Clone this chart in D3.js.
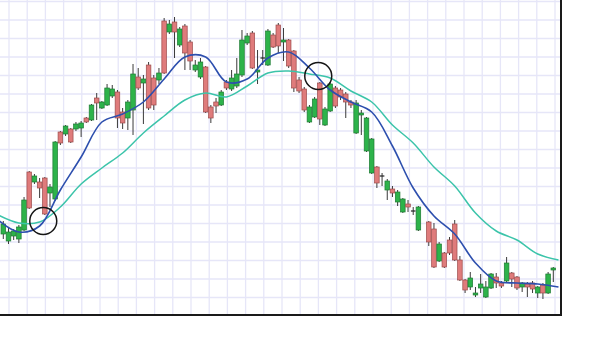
<!DOCTYPE html>
<html>
<head>
<meta charset="utf-8">
<script src="https://cdn.jsdelivr.net/npm/d3@7"></script>
<style>
  body { margin: 0; background: #fff; }
  svg { display: block; }
</style>
</head>
<body>
<div id="chart"></div>
<script>
var svgWidth = 600;
var svgHeight = 337;

// plot frame (right and bottom axis lines)
var frame = { right: 561, bottom: 315 };

// candle data, one slot per session (null = no candle)
var opens = [43, 39.5, 42, 40.5, 45, 74, 69, 69, 71, 63.5,
  60.5, 94, 93, 95.5, 95.5, 96, 101, 100, 111, 106,
  107.5, 112, 114, 104, 101, 105, 121.5, 118.5, 127.5, 121,
  120, 149.5, 144, 149, 137.5, 147, 139, 125, 121.5, 126.5,
  106.5, 109, 107.5, 119, 115.5, 117, 122.5, 138.5, 143.5, 124,
  131, 127.5, 142.5, 147.5, 139, 140, 134.5, 120, 115.5, 99,
  101.5, 118.5, 97.5, 104.5, 116, 115, 113, 109, 93.5, 102.5,
  84.5, 73.5, 76.5, 72, 65, 65.5, 59, 54, 58, 54.5,
  45, null, 49, 45.5, 29.5, 33.5, 40, 48, 30, 20,
  16.5, 12.5, 16, 11.5, 16, 21.5, 18.5, 19.5, 23.5, 21.5,
  16.5, 18, 18.5, 13.5, 17.5, 13.5, 25];
var closes = [48, 44, 44.5, 46.5, 60, 56, 72, 66, 53, 66.5,
  89, 88.5, 97, 89, 98, 98.5, 99, 107.5, 108.5, 109,
  116, 115.5, 101, 98.5, 109, 123, 116, 120.5, 106, 107.5,
  123.5, 123.5, 148, 144, 145.5, 133.5, 129.5, 127.5, 129, 104,
  101, 107, 114, 116, 121, 123, 140, 142, 126, 125,
  131, 144.5, 136.5, 137, 140, 127, 116, 114.5, 105, 106.5,
  110.5, 100.5, 105.5, 118, 107, 111.5, 109, 107.5, 108.5, 103.5,
  101, 90.5, 68.5, 72, 69.5, 63.5, 64, 60.5, 56.5, 54.5,
  56.5, null, 39, 26.5, 38, 26.5, 33.5, 30, 20, 15,
  21, 13.5, 18, 16.5, 23, 18.5, 17, 28.5, 20.5, 16,
  18.5, 16.5, 15.5, 16.5, 13.5, 23, 26];
var highs = [49.5, 46, 45.5, 47.5, 61.5, 74.5, 73, 71, 71.5, 68,
  89.5, 94.5, 97.5, 96, 99, 99.5, 101.5, 108, 113.5, 109.5,
  118, 117.5, 115, 106, 110, 128, 126, 122.5, 129, 122.5,
  126, 151, 150, 151.5, 146.5, 148, 140, 130, 131, 127,
  107.5, 111, 115, 120, 125, 131, 145, 143.5, 144.5, 135,
  135, 145.5, 143.5, 148.5, 146, 140.5, 135, 121.5, 116.5, 107.5,
  111.5, 119, 106.5, 119, 117, 116, 114, 110, 110, 105,
  101.5, 91, 77, 73.5, 70.5, 67, 65, 61, 60, 56.5,
  57, null, 49.5, 48.5, 39, 34, 41.5, 50, 32, 20.5,
  24, 16.5, 23, 19.5, 23.5, 23.5, 19.5, 31.5, 24, 22,
  19, 19, 19.5, 17, 18.5, 24, 26.5];
var lows = [40.5, 38, 40, 38.5, 44.5, 55.5, 68, 61, 52.5, 56.5,
  59.5, 87.5, 92, 88.5, 94.5, 91.5, 98.5, 99.5, 100, 105.5,
  107, 111, 96, 95.5, 95, 92.5, 115, 98, 105, 105,
  118, 123, 143, 131, 136.5, 125, 125, 124, 120.5, 103.5,
  98.5, 103.5, 107, 115, 114.5, 116, 121.5, 137.5, 125.5, 118,
  127.5, 127, 136, 133.5, 129.5, 126, 114, 113.5, 104, 98.5,
  101, 97.5, 97, 104, 106, 110, 101, 106, 93, 92.5,
  84, 73, 66, 67, 60, 61.5, 57, 53.5, 54, 52.5,
  44.5, null, 37, 26, 29, 26, 32.5, 29.5, 19.5, 13.5,
  15, 11.5, 13.5, 11, 15.5, 16, 16, 19, 16.5, 15,
  14, 11.5, 13.5, 11, 10.5, 13, 19];

// moving averages, sampled every 4th session
var maIndex = d3.range(-1, 108, 4);
var fastMA = [50, 44, 47, 65, 81.5, 99, 103, 109, 120.5, 131.5,
  131.5, 119, 120.5, 131, 134, 126, 115, 109, 104, 87,
  66, 52, 43, 28.5, 19.5, 18.5, 18, 16.5];
var slowMA = [52.5, 48.5, 49, 56.5, 68, 76, 83.5, 93.5, 102, 110,
  113.5, 111.5, 117, 123.5, 124.5, 123, 121, 114.5, 109, 97.5,
  88.5, 76.5, 67, 53.5, 44.5, 40, 33, 30];

// crossover markers
var crossIndex = [7.7, 60.7];
var crossPrice = [49.5, 122];

var svg = d3.select("#chart")
  .append("svg")
  .attr("width", svgWidth)
  .attr("height", svgHeight);

var xScale = d3.scaleLinear().domain([0, 106]).range([3.3, 553.3]);
var yScale = d3.scaleLinear().domain([2.5, 160]).range([frame.bottom, 0]);

// graph-paper grid
var gridGroup = svg.append("g").attr("stroke", "#e6e6f8").attr("stroke-width", 1.3);
gridGroup.selectAll(".vgrid")
  .data(d3.range(9, frame.right - 2, 18.2))
  .enter().append("line")
  .attr("x1", d => d).attr("x2", d => d)
  .attr("y1", 0).attr("y2", frame.bottom);
gridGroup.selectAll(".hgrid")
  .data(d3.range(1.5, frame.bottom - 2, 18.5))
  .enter().append("line")
  .attr("x1", 0).attr("x2", frame.right)
  .attr("y1", d => d).attr("y2", d => d);

// candles
var candles = d3.range(opens.length)
  .filter(i => opens[i] !== null)
  .map(i => ({ i: i, o: opens[i], c: closes[i], h: highs[i], l: lows[i] }));

var candleGroup = svg.append("g");
candleGroup.selectAll(".wick")
  .data(candles)
  .enter().append("line")
  .attr("x1", d => xScale(d.i)).attr("x2", d => xScale(d.i))
  .attr("y1", d => yScale(d.h)).attr("y2", d => yScale(d.l))
  .attr("stroke", "#3a3a3a")
  .attr("stroke-width", 1);

var bodyW = 4.6;
candleGroup.selectAll(".body")
  .data(candles.filter(d => d.o !== d.c))
  .enter().append("rect")
  .attr("x", d => xScale(d.i) - bodyW / 2)
  .attr("width", bodyW)
  .attr("y", d => yScale(Math.max(d.o, d.c)))
  .attr("height", d => Math.max(1, Math.abs(yScale(d.o) - yScale(d.c))))
  .attr("fill", d => d.c > d.o ? "#2db34a" : "#df7b7b")
  .attr("stroke", d => d.c > d.o ? "#1d7a33" : "#9c4a4a")
  .attr("stroke-width", 0.7);

candleGroup.selectAll(".doji")
  .data(candles.filter(d => d.o === d.c))
  .enter().append("line")
  .attr("x1", d => xScale(d.i) - bodyW / 2)
  .attr("x2", d => xScale(d.i) + bodyW / 2)
  .attr("y1", d => yScale(d.o)).attr("y2", d => yScale(d.o))
  .attr("stroke", "#222")
  .attr("stroke-width", 1.2);

// moving average lines
svg.append("clipPath").attr("id", "plotClip")
  .append("rect").attr("x", 0).attr("y", 0)
  .attr("width", frame.right).attr("height", frame.bottom);

var maLine = function(values) {
  return d3.line()
    .x((d, k) => xScale(maIndex[k]))
    .y(d => yScale(d))
    .curve(d3.curveCatmullRom)(values);
};

svg.append("path")
  .attr("d", maLine(slowMA))
  .attr("clip-path", "url(#plotClip)")
  .attr("fill", "none")
  .attr("stroke", "#3cc4aa")
  .attr("stroke-width", 1.5);

svg.append("path")
  .attr("d", maLine(fastMA))
  .attr("clip-path", "url(#plotClip)")
  .attr("fill", "none")
  .attr("stroke", "#2d4fae")
  .attr("stroke-width", 1.6);

// crossover circles
svg.selectAll(".cross")
  .data(crossIndex)
  .enter().append("circle")
  .attr("cx", d => xScale(d))
  .attr("cy", (d, k) => yScale(crossPrice[k]))
  .attr("r", 13.5)
  .attr("fill", "none")
  .attr("stroke", "#151515")
  .attr("stroke-width", 1.5);

// axis lines
svg.append("line")
  .attr("x1", frame.right).attr("x2", frame.right)
  .attr("y1", 0).attr("y2", frame.bottom + 1)
  .attr("stroke", "#1a1a1a").attr("stroke-width", 2);
svg.append("line")
  .attr("x1", 0).attr("x2", frame.right + 1)
  .attr("y1", frame.bottom).attr("y2", frame.bottom)
  .attr("stroke", "#1a1a1a").attr("stroke-width", 2);
</script>
</body>
</html>
